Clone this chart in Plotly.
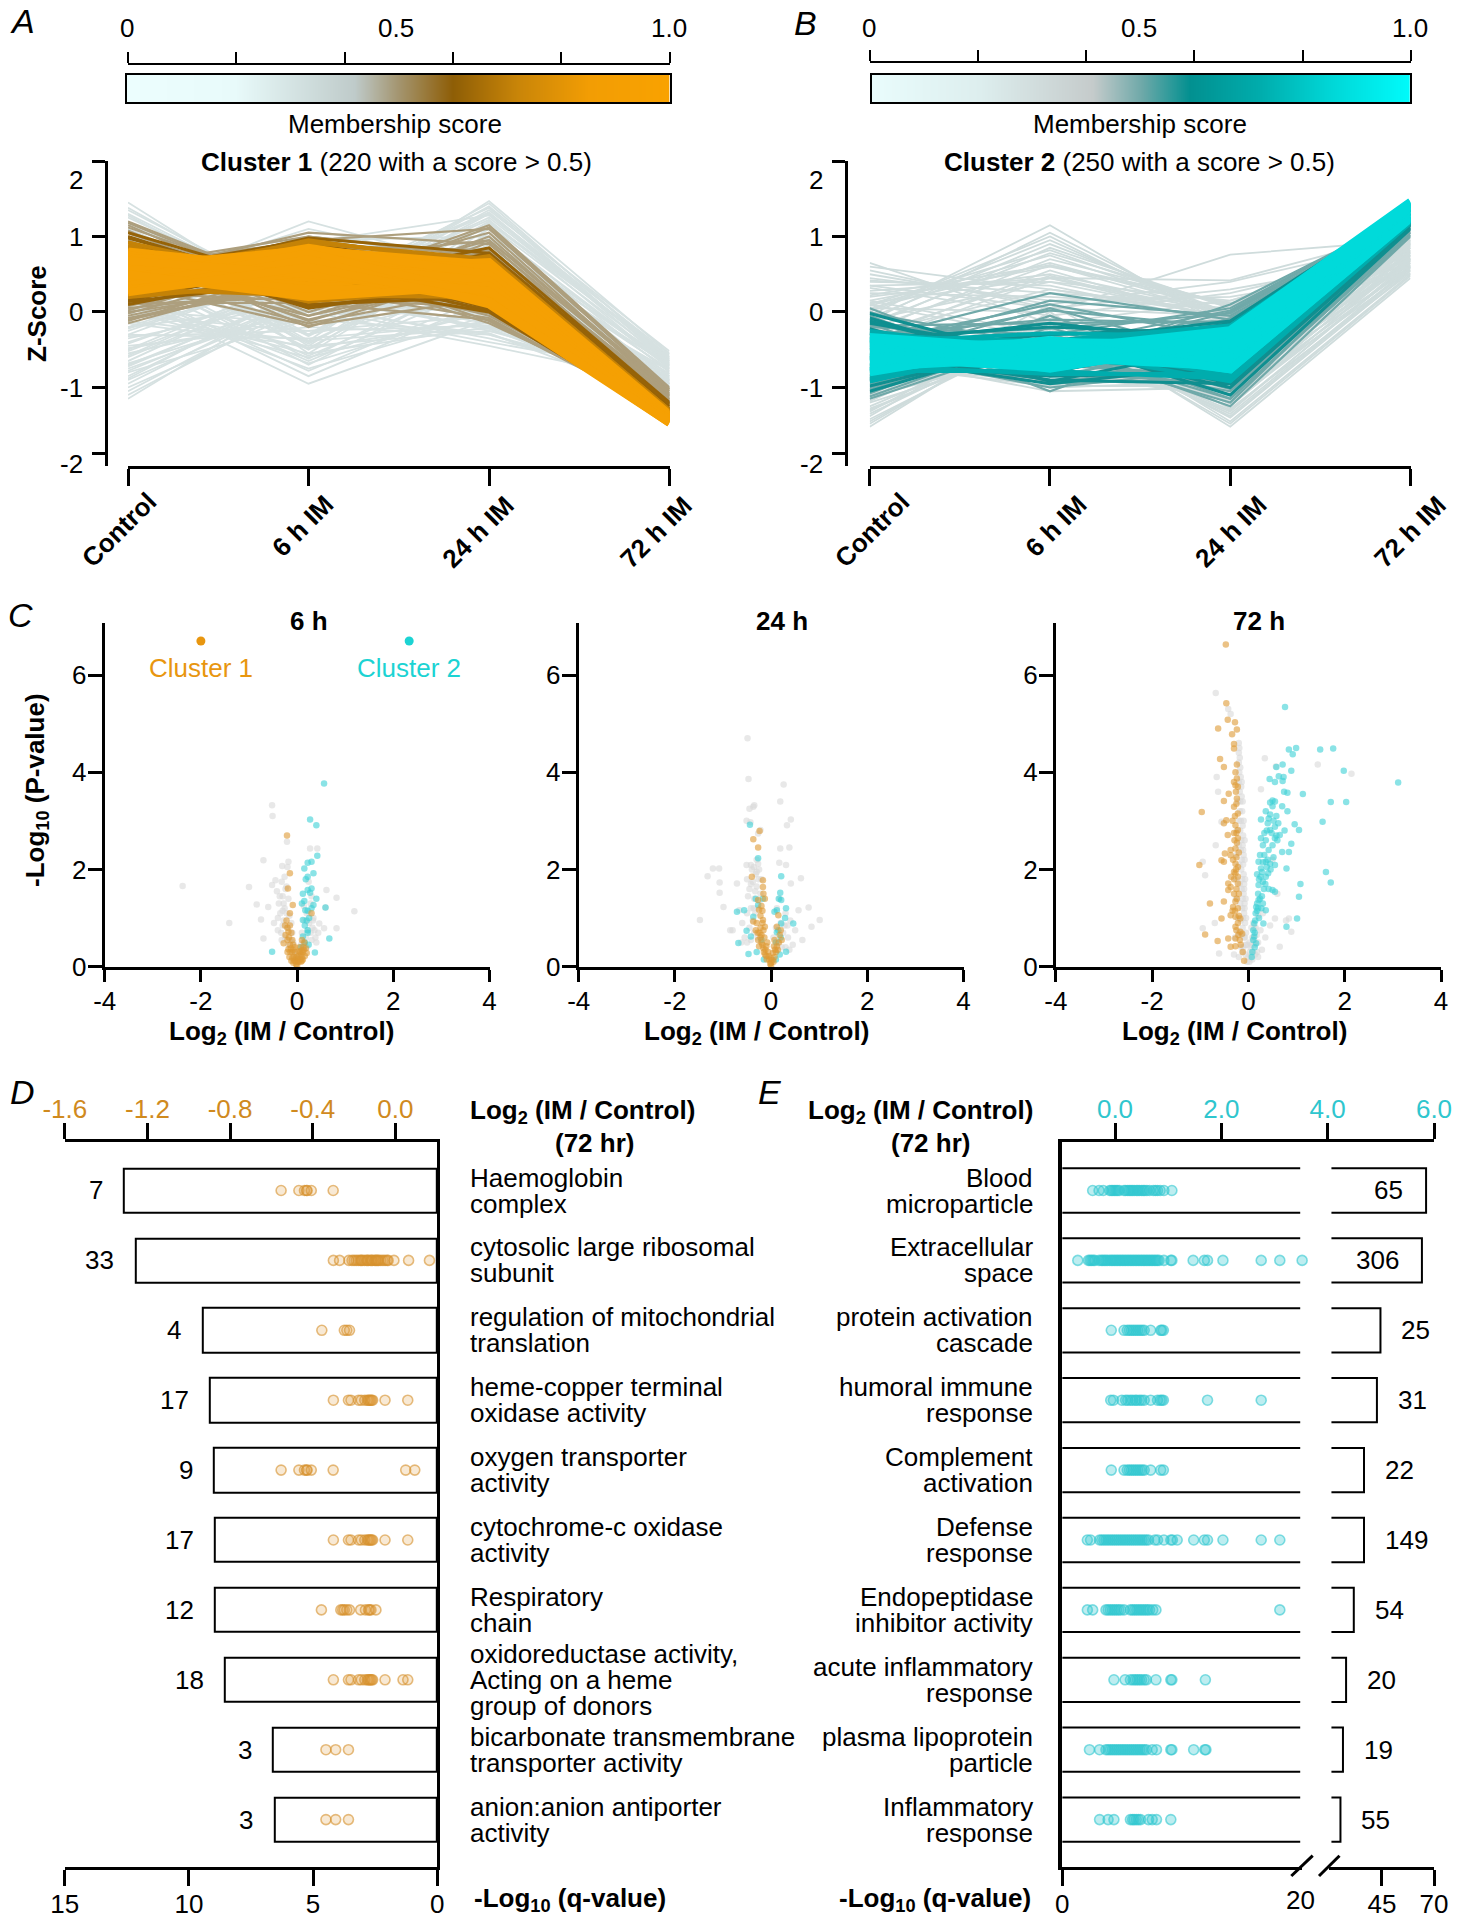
import plotly.graph_objects as go

W, H = 1460, 1920
FONT = "Liberation Sans"
FS = 26
X = lambda p: p / W
Y = lambda p: 1 - p / H

# ---------- panel A / B : profiles (Control, 6 h, 24 h, 72 h) ----------
timepoints = [0, 1, 2, 3]
a_grey = [(1.45,-.05,1.47,-.55),(1.38,.05,1.35,-.52),(1.30,.10,1.40,-.60),(1.25,.15,1.25,-.62),(1.15,.25,1.30,-.70),(1.10,.10,1.15,-.66),
(.95,.40,1.10,-.75),(-1.15,.30,.10,-1.05),(-1.05,.20,-.20,-.85),(-.95,.25,.05,-.95),(-.85,.30,-.25,-.80),(-.75,.10,-.35,-.90),
(-.65,.45,.15,-1.10),(-.55,.00,-.45,-.95),(-.50,.50,-.10,-.85),(-.45,-.20,-.30,-1.00),(-.40,.35,.20,-1.15),(-.30,-.35,-.15,-1.05),
(-.25,.55,.25,-1.00),(-.15,-.45,-.25,-.90),(-.10,.70,.05,-.95),(.00,-.60,.00,-1.00),(.05,-.55,-.20,-.95),(.10,.90,.30,-1.20),
(.15,-.75,-.05,-1.10),(.20,-.95,-.10,-.85),(.25,1.20,.55,-.95),(.30,-.85,.15,-1.15),(.35,1.10,.60,-.78),(.40,-.65,.35,-.90),
(.55,-.70,.50,-1.05),(.60,1.00,.75,-.70),(.75,-.50,.90,-.65),(.85,-.40,.70,-.85),(1.00,-.45,1.05,-.80),(1.10,-.55,.90,-.95),
(.50,.95,1.00,-.68),(.20,.80,.85,-.72),(-.20,.60,.65,-.88),(-.60,.40,.45,-1.00),(-.80,-.10,.35,-1.08),(-.35,.15,.10,-.75),
(-.05,-.25,-.05,-1.15),(.45,-.30,.25,-1.25),(.80,-.15,1.20,-.58),(.65,.30,1.32,-.65),(-.70,.25,-.15,-.98),(-1.00,.05,-.30,-.92),
(-.90,.15,.00,-1.02),(-.20,.10,-.10,-1.10),(.02,-.15,.12,-1.08),(.70,-.30,1.10,-.72),
(-1.10,.15,-.02,-1.00),(-.88,.35,.08,-.88),(-.78,.20,-.22,-1.12),(-.68,.05,-.40,-.82),(-.58,.48,.22,-.92),(-.48,-.10,-.28,-1.18),(-.42,.42,.30,-1.05),
(-.32,-.25,-.18,-.95),(-.22,.52,.18,-1.22),(-.12,-.38,-.22,-1.02),(-.02,.62,.02,-1.28),(.08,-.48,-.12,-1.12),(.18,.72,.28,-1.10),(.22,-.68,.05,-.92),
(.32,-.78,.22,-1.02),(.42,.98,.62,-.82),(.48,-.58,.42,-1.18),(.58,-.62,.58,-.88),(.68,-.48,.82,-.76),(.78,-.42,.78,-.98),(.88,-.32,.95,-.70),
(.98,-.38,1.18,-.60),(1.05,-.30,.98,-.90),(1.18,.18,1.22,-.74),(1.28,.02,1.30,-.56),(1.35,.12,1.44,-.64),(.90,.30,1.38,-.68),(.38,.92,1.28,-.62),
(.12,.85,.92,-.78),(-.30,.58,.72,-.82),(-.52,.38,.52,-.95),(-.72,.28,.38,-1.15)]
a_tan = [(1.20,.25,.95,-1.05),(1.12,.30,1.15,-1.00),(1.05,.20,.85,-1.12),(.98,.40,1.05,-1.08),(.92,.45,.80,-1.15),(.86,-.05,.65,-1.18),
(.80,-.20,.55,-1.20),(.72,.70,.95,-1.02),(.65,-.10,.45,-1.22),(.58,.85,.60,-1.10),(.50,1.05,.90,-1.05),(.45,-.15,.30,-1.25),
(.38,1.00,.75,-1.12),(.30,.95,.50,-1.18),(.22,.90,.20,-1.28),(.15,.80,.10,-1.32),(.08,.55,-.05,-1.30),(.02,.70,-.12,-1.35),
(-.05,.45,.00,-1.38),(-.12,.60,-.15,-1.25),(.10,.20,.05,-1.28),(.25,.15,.15,-1.30),(.00,.35,.35,-1.22),(-.15,.50,.25,-1.20),
(1.15,.10,1.00,-1.10),(.95,.00,.70,-1.16),(.60,.95,1.10,-1.03),(.28,.70,.40,-1.24),(-.08,.40,.12,-1.33),(.05,.30,-.08,-1.36),
(1.18,.22,1.12,-1.02),(1.08,.05,.92,-1.20),(.75,-.12,.58,-1.25),(.42,.88,.82,-1.08),(.20,.85,.68,-1.18),(-.02,.62,.22,-1.28),(-.10,.38,-.02,-1.32),
(.62,1.00,.72,-1.15),(.35,-.18,.18,-1.30),(.12,.12,-.10,-1.35),(.55,-.05,.48,-1.20)]
a_brown = [(1.05,.35,.85,-1.20),(.98,.30,.70,-1.25),(.92,.20,.60,-1.28),(.85,.15,.50,-1.30),(.80,.05,.40,-1.32),(.72,.08,.30,-1.35),
(.62,.10,.20,-1.38),(.55,.95,.65,-1.25),(.45,.98,.78,-1.22),(.38,.90,.55,-1.28),(.30,.85,.35,-1.33),(.22,.75,.15,-1.40),
(.15,.65,.05,-1.42),(.10,.55,.02,-1.40),(.18,.45,.10,-1.38),(.28,.25,.25,-1.35),(1.00,.25,.78,-1.22),(.14,.40,.00,-1.43)]
a_amber = [(.92,.40,.74,-1.30),(.88,.25,.68,-1.33),(.82,.15,.58,-1.36),(.75,.14,.46,-1.38),(.62,.14,.32,-1.42),(.52,.92,.70,-1.30),(.42,.95,.62,-1.33),
(.32,.88,.40,-1.38),(.25,.78,.20,-1.44),(.20,.62,.12,-1.45),(.20,.40,.14,-1.42),(.30,.22,.20,-1.40),(.62,.50,.72,-1.30)]
a_core = [(.80,.55,.66,-1.36),(.76,.35,.60,-1.38),(.72,.60,.52,-1.40),(.70,.26,.45,-1.42),(.65,.45,.38,-1.44),(.60,.82,.63,-1.37),
(.55,.72,.58,-1.38),(.50,.30,.30,-1.45),(.45,.85,.50,-1.40),(.40,.62,.42,-1.43),(.35,.78,.22,-1.46),(.30,.52,.15,-1.46),
(.28,.70,.10,-1.47),(.50,.20,.35,-1.44),(.68,.50,.28,-1.45),(.26,.60,.14,-1.47)]

b_grey = [(.65,-.15,.15,.85),(.60,.30,-.05,.70),(.50,.10,.40,.95),(.45,.15,.20,.60),(.40,.35,-.15,.65),(.32,-.05,.25,.80),(.28,.45,-.10,.55),
(.20,.50,.00,1.00),(.15,.60,.10,.75),(.08,.75,-.05,.90),(.05,.65,.00,.50),(.00,.95,-.10,.85),(-.05,1.15,-.25,.70),(-.12,1.05,-.15,.60),
(-.18,.85,.05,.95),(-.25,.70,.10,1.05),(-.35,.55,-.15,1.10),(-1.52,-.05,-1.52,.45),(-1.45,-.15,-1.40,.55),(-1.38,.00,-1.45,.50),
(-1.30,-.30,-1.30,.65),(-1.25,-.25,-1.35,.60),(-1.20,-.45,-1.25,.75),(-1.15,.10,-1.20,.70),(-1.10,-.40,-1.10,.80),(-.95,-.55,-1.05,.85),
(-.85,-.75,-1.15,.55),(-.75,-.90,-.95,.90),(-.60,-1.05,-1.00,.95),(-.45,-.95,-.85,.75),(-.30,-.85,-.95,.65),(-.20,-.70,-.90,.85),
(.10,-.35,-1.05,1.00),(.05,.00,.76,.95),(.12,.45,.42,1.05),(.25,.20,.05,.90),(-.10,.40,.15,.80),(.35,.05,-.05,.75),(-.28,.30,.00,1.15),
(-1.35,-.20,-1.22,.62),(-1.05,-.10,-.90,.68),(-.40,.45,-.02,.88),
(.55,.05,.30,.72),(.42,.25,.10,.88),(.35,.40,-.08,.98),(.22,.62,.12,.62),(.10,.82,-.02,.78),(.02,1.00,-.18,.92),(-.08,.90,-.02,.68),(-.15,.78,.08,.82),
(-.22,.62,-.05,1.00),(-.30,.48,-.10,1.08),(-1.48,-.10,-1.48,.48),(-1.42,-.22,-1.38,.58),(-1.32,-.05,-1.28,.52),(-1.28,-.35,-1.32,.68),(-1.18,-.12,-1.18,.78),
(-1.12,-.50,-1.12,.72),(-1.02,-.62,-1.08,.82),(-.92,-.42,-1.02,.92),(-.82,-.82,-1.12,.60),(-.70,-.98,-.98,.98),(-.52,-1.00,-.92,.70),(-.38,-.90,-.88,.92),
(-.25,-.78,-.98,.58),(-.10,-.60,-1.00,.88),(.00,-.50,-1.18,.78),(.15,-.30,-.80,.94)]
b_mid = [(.05,-.85,-.45,1.25),(.00,-.70,.10,1.30),(-.05,-.95,-.10,1.28),(-.10,-.60,.00,1.30),(-.15,-1.05,-.20,1.22),(-.20,-.30,.05,1.32),
(-.25,-.45,-.30,1.20),(-.30,-.10,-.15,1.25),(-.35,.25,-.10,1.35),(-.40,.10,-.35,1.15),(-.50,.15,-.05,1.28),(-.95,-.40,-1.25,1.00),
(-1.15,-.35,-1.10,1.05),(-1.08,-.20,-1.00,1.10),(-1.00,-.30,-.95,1.08),(-.92,-.45,-1.15,1.02),(-.85,-.05,-.90,1.12),(-.78,-.60,-1.05,1.05),
(-.70,-.70,-.85,1.15),(-.62,-.90,-.80,1.18),(-.55,-1.00,-.75,1.20),(-.45,-.85,-.70,1.22),(-.60,.05,-.60,1.25),(-.18,-.15,-.12,1.30),
(-.12,-.82,-.08,1.25),(-.02,-.45,.02,1.34),(-.22,-.75,-.22,1.18),(-.32,-.22,-.02,1.30),(-.45,.02,-.20,1.22),(-1.12,-.28,-1.15,1.02),(-1.02,-.38,-1.02,1.06),
(-.88,-.50,-1.20,1.10),(-.72,-.80,-.95,1.12),(-.58,-.95,-.88,1.16),(-.48,-.70,-.72,1.26)]
b_dark = [(-.02,-.65,-.25,1.35),(-.08,-.80,-.35,1.30),(-.15,-.55,-.15,1.40),(-.22,-.92,-.45,1.25),(-.28,-.40,-.12,1.42),(-.35,-.20,-.30,1.35),
(-.42,-.15,-.40,1.30),(-.50,-.30,-.20,1.38),(-1.05,-.35,-1.10,1.10),(-.98,-.40,-.95,1.15),(-.90,-.45,-1.00,1.12),(-.82,-.50,-.90,1.18),
(-.75,-.55,-.85,1.20),(-.68,-.85,-.80,1.22),(-.60,-.95,-.70,1.25),(-.55,-.90,-.95,1.15),(-.12,-.72,-.18,1.36),(-.88,-.62,-.78,1.16)]
b_amber = [(-.25,-.55,-.18,1.44),(-.28,-.80,-.28,1.42),(-.30,-.42,-.20,1.44),(-.85,-.42,-.85,1.20),(-.88,-.50,-.92,1.18),(-.78,-.78,-.88,1.20),(-.72,-.82,-.82,1.22),
(-.92,-.38,-.82,1.18),(-.35,-.38,-.18,1.40),(-.40,-.28,-.32,1.35)]
b_core = [(-.33,-.50,-.24,1.46),(-.38,-.62,-.30,1.44),(-.43,-.75,-.36,1.42),(-.48,-.40,-.42,1.38),(-.53,-.55,-.48,1.35),(-.58,-.68,-.54,1.32),
(-.63,-.37,-.60,1.30),(-.68,-.50,-.66,1.28),(-.73,-.60,-.72,1.26),(-.78,-.45,-.76,1.25),(-.80,-.40,-.76,1.24),(-.35,-.72,-.28,1.45),(-.60,-.74,-.40,1.40)]

bar_ticks_a = [0, .2, .4, .6, .8, 1]
ramp = [0, .1, .2, .3, .4, .5, .6, .7, .8, .9, 1]
scale_a = [[0,'#ECFEFE'],[.2,'#E8FAFA'],[.42,'#BFCBCA'],[.5,'#A49671'],[.6,'#8E5E06'],[.72,'#C98508'],[.85,'#F29D04'],[1,'#F9A200']]
scale_b = [[0,'#E9FCFC'],[.2,'#DDEEEE'],[.41,'#C5CBCB'],[.5,'#6FA9A9'],[.59,'#029090'],[.72,'#00ACAC'],[.85,'#00D6D6'],[1,'#00FBFB']]

# ---------- panel C : volcano points (log2 ratio, -log10 p) ----------
v6_grey = [(-2.38,1.66),(-1.0,1.64),(-.7,2.19),(-.52,3.32),(-.51,3.1),(-.84,1.28),(-1.41,.9),(-.75,.97),(-.7,.58),(-.6,1.23),(-.45,1.78),(-.52,1.68),
(-.31,2.07),(-.18,2.16),(-.21,2.57),(.27,2.43),(.42,2.43),(.61,1.58),(.82,1.42),(1.19,1.14),(.82,.79),(.56,.79),(.59,1.22),(.46,.89),
(-.48,.9),(-.42,1.55),(-.38,1.3),(-.35,1.1),(-.33,.7),(-.3,1.45),(-.28,.95),(-.26,1.2),(-.25,.6),(-.22,1.65),(-.2,.8),(-.18,1.4),(-.16,1.05),(-.14,.55),
(-.12,.9),(-.1,.7),(-.08,.5),(-.05,.3),(.05,.25),(.08,.45),(.1,.7),(.12,.5),(.15,.95),(.18,.6),(.2,1.1),(.22,.75),(.25,.9),(.28,1.3),(.3,.55),(.33,.95),
(.36,.75),(.4,.5),(.44,.7),(-.4,1.0),(-.3,.85),(-.24,1.6),(-.18,.45),(.14,1.25),(.24,1.75),(.34,1.0),(-.32,1.75),(-.26,1.85),(-.2,2.05),
(-.36,1.45),(-.28,1.3),(-.22,1.1),(-.3,1.15),(-.4,.75),(-.32,.55),(.28,.7),(.32,.8),(.2,.4),(.38,.6),(.26,1.1),(.3,1.45)]
v6_teal = [(.56,3.77),(.27,3.03),(.4,2.91),(.42,2.28),(.3,2.16),(.22,2.14),(.15,2.02),(.34,1.92),(.22,1.85),(.18,1.8),(.3,1.61),(.22,1.58),(.27,1.52),(.12,1.5),
(.4,1.4),(.34,1.27),(.59,1.22),(.17,1.16),(.22,1.15),(.3,1.2),(.12,.96),(.2,.95),(.16,.85),(.22,.75),(.67,.58),(-.52,.31),(.37,.29),(.22,.7),(.12,.62),(.16,.5),
(.08,.4),(.24,.45),(.1,1.3),(.15,1.35),(.25,1.0)]
v6_orange = [(-.21,2.7),(-.15,1.92),(-.19,1.61),(-.09,1.27),(-.15,1.1),(.3,1.1),(-.22,.95),(-.25,.85),(-.2,.8),(-.18,.72),(-.15,.85),(-.24,.65),(-.12,.7),(-.2,.55),
(-.28,.48),(-.1,.55),(-.15,.45),(-.08,.45),(.1,.55),(.15,.5),(.05,.4),(.18,.38),(.12,.3),(.08,.25),(-.05,.3),(-.1,.3),(-.14,.3),(-.07,.2),(.06,.15),(.1,.2),(-.04,.12),
(.03,.1),(-.02,.05),(0,.02),(-.03,.18),(.03,.22),(-.06,.12),(.06,.3),(.14,.35),(.2,.28),(-.18,.36),(0,.1),(-.01,.2),(.01,.15),
(-.12,.12),(-.16,.2),(-.2,.3),(.12,.15),(.16,.22),(-.08,.08),(.08,.1),(-.1,.18),(.1,.12),(-.13,.38),(.13,.4),(-.05,.4),(.04,.32),(-.17,.6),(-.08,.35),(.09,.33)]

v24_grey = [(-1.32,1.86),(-1.21,2.02),(-1.08,2.02),(-1.07,1.73),(-1.07,1.52),(-.99,1.23),(-1.48,.96),(-.85,.75),(-.49,4.7),(-.47,3.86),(.26,3.75),(.19,3.4),(-.37,3.29),
(-.45,3.25),(-.35,3.32),(-.51,3.0),(-.43,2.97),(.41,3.03),(.33,2.91),(.19,2.43),(.38,2.45),(-.27,2.74),(-.22,2.81),(-.51,2.09),(-.42,2.09),(-.27,2.12),(.17,2.14),(.31,2.09),
(.62,1.82),(.41,1.71),(.78,1.22),(.57,1.16),(1.01,.96),(.84,.82),(.65,.55),(-.71,1.71),(-.66,1.16),(-.8,.75),(-.5,1.8),(-.45,1.6),(-.4,2.0),(-.35,1.4),(-.32,1.9),(-.3,1.65),
(-.28,1.2),(-.25,2.0),(-.22,1.5),(-.2,1.8),(-.5,1.1),(-.45,.8),(-.42,1.2),(-.38,.95),(-.35,.7),(-.28,.6),(-.6,.9),(-.55,.6),(-.62,.5),(.05,.6),(.1,.8),(.15,.5),(.2,.9),(.25,.7),
(.3,1.1),(.35,.6),(.4,.95),(.45,.45),(.5,.75),(.12,1.2),(.18,1.4),(.3,.4),(-.3,2.2),(-.36,2.05),(-.33,1.55),
(-.48,1.45),(-.42,1.7),(-.38,1.75),(-.36,1.2),(-.33,1.1),(-.3,1.95),(-.26,1.8),(-.24,1.35),(-.42,.55),(-.5,.5),(.22,.4),(.28,.85),(.34,.85),(.1,.35),(.38,.35)]
v24_teal = [(-.44,2.92),(-.27,2.23),(.21,1.86),(.19,1.52),(.16,1.4),(-.17,1.4),(-.32,1.4),(-.27,1.27),(.21,1.37),(.31,1.2),(-.71,1.13),(-.56,1.16),(-.37,1.03),(.46,.89),(-.68,.49),
(-.47,.26),(-.51,.74),(.29,1.0),(.21,.89),(.31,.31),(-.42,.62),(.12,.71),(.12,1.16),(.07,1.13),(.15,.75),(.2,.6),(.1,.5),(-.2,.55),(-.3,.3),(.18,.25),(-.15,.15),(.1,.15)]
v24_orange = [(-.24,2.79),(-.37,2.62),(-.27,2.45),(-.4,1.85),(-.17,1.78),(-.17,1.64),(-.16,1.5),(-.27,1.37),(-.13,1.4),(-.25,1.17),(-.37,.93),(-.32,.75),(-.27,.55),(-.17,.96),(-.13,.82),
(.15,1.06),(.22,.55),(.12,.82),(.07,.55),(-.3,.9),(-.22,.8),(-.2,.65),(-.25,.42),(-.18,.45),(-.14,.6),(-.12,.35),(-.08,.5),(-.06,.3),(.04,.28),(.08,.35),(.12,.42),(.16,.5),(-.1,.22),
(-.04,.15),(.03,.14),(-.02,.06),(0,.02),(-.15,.3),(.05,.1),(-.22,1.05),(-.28,.7),(-.2,1.25),(-.18,1.15),(0,.08),(-.01,.18),
(-.24,.7),(-.2,.5),(-.16,.38),(-.13,.25),(-.09,.15),(-.05,.22),(.07,.2),(.1,.3),(.14,.35),(-.1,.42),(-.16,.75),(-.22,.6),(-.18,.9),(.18,.65),(.2,.75),(.06,.42)]

v72_grey = [(-.68,5.63),(-.42,5.3),(-.37,5.2),(.34,4.29),(1.44,4.16),(2.14,3.97),(.26,3.65),(.57,4.12),(-.66,3.9),(-.63,3.6),(-.56,2.98),(-.68,2.5),(-.9,1.88),(-.95,2.16),(.65,.41),(.55,.99),
(.84,.99),(.89,.72),(-.61,.27),(-.95,.79),(.5,2.2),(.6,1.5),(.45,.85),(.35,.6),(.3,1.1),(.78,.95),(-.7,.9),(-.2,4.6),(-.2,4.4),(-.2,4.2),(-.19,4.0),(-.2,3.8),(-.18,3.6),(-.17,3.4),(-.18,3.2),
(-.16,3.0),(-.17,2.8),(-.15,2.6),(-.16,2.4),(-.14,2.2),(-.15,2.0),(-.13,1.8),(-.14,1.6),(-.12,1.4),(-.13,1.2),(-.11,1.0),(-.12,.8),(-.09,.6),(-.1,.4),(-.06,.25),(-.03,.1),(-.1,3.0),(-.08,2.6),
(-.08,2.2),(-.07,1.8),(-.06,1.4),(-.05,1.0),(-.05,.7),(-.22,3.4),(-.24,2.8),(-.25,2.3),(-.26,1.8),(-.26,1.4),(-.22,1.0),(-.2,.7),(-.15,.4),(.05,.2),(.1,.3),(.12,.55),(.15,.8),(.2,1.05),(.08,.6),
(.04,.4),(.02,.1),(.14,.25),(.2,.5),(.28,.35),(.25,.75),(.1,.9),(.18,.3),(-.2,.2),(-.3,.25),(-.28,.6),(-.12,3.4),(-.14,3.8),(-.11,2.4),(-.09,1.6),(-.08,1.2),(-.03,.45),(0,.2),(.02,.5),(.06,.8),
(-.19,4.5),(-.18,4.3),(-.17,4.1),(-.16,3.9),(-.15,3.7),(-.14,3.5),(-.13,3.2),(-.12,2.9),(-.11,2.7),(-.12,2.5),(-.1,2.3),(-.11,2.1),(-.1,1.9),(-.09,1.7),(-.1,1.5),(-.08,1.3),(-.09,1.1),(-.07,.9),(-.07,.6),(-.06,.45),
(-.2,3.0),(-.2,2.5),(-.19,2.1),(-.18,1.7),(-.17,1.3),(-.16,.95),(-.14,.65),(-.12,.3),(.03,.3),(.06,.45),(.1,.6),(.14,.45),(.17,.65),(.12,.8),(.2,.2),(.08,.15)]
v72_teal = [(.76,5.34),(.84,4.47),(.99,4.5),(.92,4.37),(1.49,4.47),(1.76,4.49),(.71,4.16),(.58,4.11),(.89,4.03),(1.98,4.03),(3.11,3.79),(.63,3.92),(.73,3.9),(.44,3.86),(.71,3.82),(.55,3.8),(.74,3.6),
(1.13,3.55),(.81,3.58),(1.71,3.39),(2.03,3.39),(.5,3.42),(.45,3.38),(.7,3.3),(.81,3.2),(.36,3.2),(.45,3.13),(.26,3.03),(1.54,2.98),(.96,2.93),(.4,2.95),(.55,2.88),(.45,2.81),(1.05,2.81),(.65,2.71),
(.26,2.64),(.36,2.6),(.55,2.64),(.89,2.53),(.5,2.5),(.7,2.36),(.84,2.36),(.21,2.16),(.36,2.16),(.45,2.12),(.55,2.09),(.26,2.02),(.41,1.92),(.79,2.02),(1.61,1.95),(.36,1.85),(1.71,1.73),(1.08,1.7),
(.21,1.68),(.5,1.58),(.55,1.54),(1.05,1.44),(.21,1.37),(.16,1.23),(.36,1.16),(.12,.89),(.31,.89),(1.01,.99),(.79,.82),(.12,.62),(.16,.48),(.07,.2),(.3,2.5),(.42,2.4),(.6,2.6),(.33,2.3),(.52,2.25),
(.25,1.85),(.3,1.75),(.2,1.5),(.28,1.45),(.15,1.1),(.22,1.0),(.1,.75),(.13,.4),(.58,3.1),(.62,2.95),(.48,2.75),(.33,2.75),(.75,2.8),(.4,2.2),(.46,2.0),(.24,2.3),(.18,1.9),(.32,1.6),(.27,1.2),(.18,1.3),
(.5,3.3),(.55,3.4),(.42,3.05),(.52,3.0),(.38,2.8),(.58,2.7),(.3,2.15),(.38,2.05),(.28,1.95),(.22,1.8),(.35,1.7),(.42,1.6),(.18,1.15),(.14,.95),(.1,.55),(.2,1.2),(.24,1.4),(.3,1.3),(.13,.7),(.08,.3)]
v72_orange = [(-.47,6.63),(-.46,5.42),(-.43,5.08),(-.28,5.03),(-.63,4.9),(-.34,4.78),(-.24,4.88),(-.3,4.58),(-.3,4.49),(-.59,4.27),(-.24,4.16),(-.51,4.11),(-.27,4.0),(-.24,3.87),(-.27,3.73),(-.22,3.7),
(-.41,3.56),(-.51,3.41),(-.24,3.46),(-.3,3.29),(-.22,3.15),(-.97,3.18),(-.46,3.01),(-.51,2.95),(-.27,2.91),(-.22,2.81),(-.43,2.71),(-.22,2.64),(-.27,2.43),(-.37,2.4),(-.49,2.33),(-.37,2.29),(-.56,2.19),
(-.51,2.16),(-1.02,2.09),(-.27,2.12),(-.22,2.05),(-.27,1.92),(-.42,1.71),(-.22,1.71),(-.37,1.64),(-.42,1.58),(-.51,1.34),(-.8,1.3),(-.27,1.34),(-.32,1.23),(-.22,1.2),(-.37,1.06),(-.27,1.03),(-.56,.99),
(-.17,.99),(-.27,.82),(-.9,.66),(-.64,.53),(-.17,.72),(-.42,.58),(-.27,.58),(-.13,.68),(-.37,.41),(-.27,.42),(-.3,3.8),(-.26,3.6),(-.33,3.0),(-.29,2.6),(-.32,2.2),(-.25,2.25),(-.3,1.95),(-.36,1.85),
(-.3,1.5),(-.24,1.4),(-.33,1.15),(-.22,.9),(-.18,.55),(-.12,.3),(-.09,.12),
(-.25,3.35),(-.28,3.1),(-.25,2.75),(-.3,2.75),(-.24,2.55),(-.2,2.35),(-.26,2.0),(-.22,1.85),(-.3,1.8),(-.25,1.6),(-.2,1.5),(-.28,1.15),(-.2,1.05),(-.25,.75),(-.16,.45),(-.21,.65)]
legend_x = [-2, 2.33]
legend_y = [6.7, 6.7]
volcano_ticks = [-4, -2, 0, 2, 4]
volcano_labels = ["-4", "-2", "0", "2", "4"]

# ---------- panel D ----------
d_q = [12.63, 12.16, 9.46, 9.15, 9.01, 8.97, 8.95, 8.54, 6.62, 6.56]
d_counts = [7, 33, 4, 17, 9, 17, 12, 18, 3, 3]
d_terms = [["Haemoglobin","complex"],["cytosolic large ribosomal","subunit"],["regulation of mitochondrial","translation"],["heme-copper terminal","oxidase activity"],
["oxygen transporter","activity"],["cytochrome-c oxidase","activity"],["Respiratory","chain"],["oxidoreductase activity,","Acting on a heme","group of donors"],
["bicarbonate transmembrane","transporter activity"],["anion:anion antiporter","activity"]]
d_points = [
 [-.553,-.467,-.44,-.43,-.427,-.407,-.301],
 [-.30,-.27,-.225,-.21,-.20,-.19,-.18,-.17,-.165,-.16,-.15,-.14,-.135,-.13,-.12,-.115,-.11,-.10,-.095,-.09,-.085,-.08,-.07,-.06,-.05,-.04,-.035,-.007,.064,.165],
 [-.356,-.247,-.235,-.222],
 [-.30,-.227,-.215,-.178,-.165,-.148,-.136,-.13,-.125,-.12,-.115,-.11,-.05,.06],
 [-.553,-.467,-.44,-.43,-.427,-.407,-.301,.05,.094],
 [-.30,-.227,-.215,-.178,-.165,-.148,-.136,-.13,-.125,-.12,-.115,-.11,-.05,.06],
 [-.358,-.264,-.255,-.247,-.235,-.222,-.168,-.145,-.13,-.125,-.118,-.094],
 [-.30,-.227,-.215,-.178,-.165,-.148,-.136,-.13,-.125,-.12,-.115,-.11,-.05,.037,.06],
 [-.336,-.289,-.227],
 [-.336,-.289,-.227]]

# ---------- panel E ----------
e_q = [66.2, 64.2, 44.3, 42.6, 36.4, 36.4, 31.5, 27.8, 26.3, 25.1]
e_counts = [65, 306, 25, 31, 22, 149, 54, 20, 19, 55]
e_terms = [["Blood","microparticle"],["Extracellular","space"],["protein activation","cascade"],["humoral immune","response"],["Complement","activation"],["Defense","response"],
["Endopeptidase","inhibitor activity"],["acute inflammatory","response"],["plasma lipoprotein","particle"],["Inflammatory","response"]]
e_points = [
 [-.42,-.30,-.22,-.10,-.07,-.04,-.01,.02,.05,.08,.17,.2,.24,.27,.3,.33,.36,.4,.43,.46,.5,.53,.56,.6,.65,.72,.76,.8,.85,.92,1.07],
 [-.70,-.5,-.47,-.44,-.41,-.38,-.3,-.26,-.23,-.2,-.17,-.14,-.1,-.07,-.04,-.01,.02,.05,.08,.11,.14,.17,.2,.23,.26,.29,.32,.35,.38,.41,.44,.47,.5,.53,.56,.59,.62,.65,.68,.71,.74,.77,.8,.83,.92,1.05,1.07,1.47,1.68,1.74,2.03,2.75,3.1,3.52],
 [-.07,.17,.23,.27,.31,.35,.39,.43,.47,.51,.55,.67,.86,.88,.91],
 [-.08,-.03,.13,.2,.24,.29,.33,.38,.41,.46,.5,.55,.67,.8,.85,.88,.91,1.74,2.75],
 [-.07,.17,.23,.27,.31,.35,.39,.43,.47,.51,.55,.67,.86,.91],
 [-.52,-.46,-.29,-.25,-.21,-.17,-.13,-.09,-.05,-.01,.03,.07,.11,.15,.19,.23,.27,.31,.35,.39,.43,.47,.51,.55,.59,.63,.75,.8,.92,1.05,1.08,1.17,1.48,1.68,1.74,2.03,2.75,3.1],
 [-.52,-.42,-.17,-.13,-.09,-.05,-.01,.03,.07,.11,.17,.29,.33,.37,.41,.45,.49,.53,.57,.61,.65,.71,.77,3.1],
 [-.02,.19,.29,.34,.38,.42,.46,.5,.55,.59,.77,1.05,1.07,1.7],
 [-.48,-.29,-.17,-.13,-.09,-.05,-.01,.03,.07,.11,.15,.19,.23,.27,.31,.35,.39,.43,.47,.51,.55,.59,.7,.78,1.05,1.07,1.48,1.69,1.71],
 [-.29,-.13,-.02,.29,.33,.36,.4,.44,.48,.63,.7,.78,1.05]]

axis_break_left = 20
axis_break_right = 20.77
bar_half = .317
rows = list(range(10))

fig = go.Figure()
annotations = []

def txt(x, y, t, size=FS, color="black", bold=False, anchor="center", angle=0, italic=False):
    if bold: t = "<b>" + t + "</b>"
    if italic: t = "<i>" + t + "</i>"
    annotations.append(dict(x=X(x), y=Y(y), xref="paper", yref="paper", text=t, showarrow=False, xanchor=anchor, yanchor="middle",
                            textangle=angle, font=dict(size=size, color=color, family=FONT)))

BASE = dict(showgrid=False, zeroline=False, showline=True, linecolor="black", ticks="outside", tickcolor="black", automargin=False,
            layer="above traces", tickfont=dict(size=FS, color="black", family=FONT))

def axis(**kw):
    d = dict(BASE); d.update(kw); return d

layout = {}

def profile_panel(n, x0, x1, yline, groups, scale, bar0, bar1, sc0, sc1, sc_y, labels_x, title, title_x, memb_x, tick_lab_right):
    xa, ya = f"x{n}", f"y{n}"
    layout[f"xaxis{n}"] = axis(domain=[X(x0), X(x1)], range=[0, 3], anchor=ya, tickvals=timepoints, showticklabels=False, ticklen=17, tickwidth=2.5, linewidth=2.5)
    layout[f"yaxis{n}"] = axis(domain=[Y(466), Y(161)], range=[-2.04, 2.0], anchor="free", position=X(yline), tickvals=[2, 1, 0, -1, -1.88],
                               showticklabels=False, ticklen=13, tickwidth=2.5, linewidth=2.5)
    for rows_, color, w in groups:
        xs, ys = [], []
        for r in rows_:
            xs += timepoints + [None]; ys += list(r) + [None]
        fig.add_trace(go.Scatter(x=xs, y=ys, mode="lines", line=dict(color=color, width=w), xaxis=xa, yaxis=ya, hoverinfo="skip", showlegend=False, connectgaps=False))
    n2 = n + 1; n3 = n + 2
    layout[f"xaxis{n2}"] = dict(domain=[X(bar0), X(bar1)], range=[0, 1], anchor=f"y{n2}", showgrid=False, zeroline=False, showticklabels=False, ticks="", showline=True, mirror=True, linecolor="black", linewidth=2, automargin=False)
    layout[f"yaxis{n2}"] = dict(domain=[Y(102.3), Y(75)], range=[0, 1], anchor=f"x{n2}", showgrid=False, zeroline=False, showticklabels=False, ticks="", showline=True, mirror=True, linecolor="black", linewidth=2, automargin=False)
    fig.add_trace(go.Heatmap(x=ramp, y=[0, 1], z=[ramp, ramp], colorscale=scale, zmin=0, zmax=1, zsmooth="best", showscale=False, xaxis=f"x{n2}", yaxis=f"y{n2}", hoverinfo="skip"))
    layout[f"xaxis{n3}"] = axis(domain=[X(sc0), X(sc1)], range=[0, 1], anchor="free", position=Y(sc_y), side="top", tickvals=bar_ticks_a, showticklabels=False, ticklen=11.5, tickwidth=2, linewidth=2)
    fig.add_trace(go.Scatter(x=[0, 1], y=[None, None], xaxis=f"x{n3}", yaxis=f"y{n2}", mode="lines", hoverinfo="skip", showlegend=False))
    for lab, xp in zip(["0", "0.5", "1.0"], labels_x):
        txt(xp, 28, lab)
    txt(memb_x, 123.5, "Membership score")
    txt(title_x, 162.4, title)
    for lab, yy in zip(["2", "1", "0", "-1", "-2"], [180.5, 237, 312, 388, 464]):
        txt(tick_lab_right, yy, lab, anchor="right")

profile_panel(1, 128, 669.5, 105.7,
              [(a_grey, "#D6E1E1", 1.8), (a_tan, "#AD9F7E", 2.2), (a_brown, "#966308", 3), (a_amber, "#C48207", 4), (a_core, "#F5A003", 8)],
              scale_a, 126.6, 669.5, 128, 669.5, 64, [126.6, 395.7, 669], "<b>Cluster 1</b> (220 with a score > 0.5)", 396, 394.5, 85)
profile_panel(4, 869.7, 1410.5, 845.5,
              [(b_grey, "#CFDCDC", 1.8), (b_mid, "#70A9A9", 2.2), (b_dark, "#0F8F90", 3), (b_amber, "#00ACAD", 4), (b_core, "#00DADA", 8)],
              scale_b, 872, 1409.7, 869.7, 1411, 62, [868.7, 1138.8, 1409.7], "<b>Cluster 2</b> (250 with a score > 0.5)", 1139, 1139.7, 825)

for lab, (cx, cy) in zip(["Control", "6 h IM", "24 h IM", "72 h IM"], [(118.7, 530), (302.6, 526), (478, 532), (656.4, 532)]):
    txt(cx, cy, lab, bold=True, angle=-45)
for lab, (cx, cy) in zip(["Control", "6 h IM", "24 h IM", "72 h IM"], [(872, 530), (1055.9, 526), (1230.5, 532), (1409.7, 532)]):
    txt(cx, cy, lab, bold=True, angle=-45)
txt(37, 314, "Z-Score", bold=True, angle=-90)
txt(22, 21, "A", size=34, italic=True); txt(805, 23, "B", size=34, italic=True); txt(20, 615, "C", size=34, italic=True)
txt(22, 1092, "D", size=34, italic=True); txt(769, 1092, "E", size=34, italic=True)

# ---------- panel C ----------
def unz(p): return [a for a, _ in p], [b for _, b in p]
GREY, TEAL, ORANGE = "#D9D9D9", "#3CD0D6", "#DE9A33"
def volcano(n, x0, x1, sets, title, tx, xt):
    xa, ya = f"x{n}", f"y{n}"
    layout[f"xaxis{n}"] = axis(domain=[X(x0), X(x1)], range=[-4, 4], anchor=ya, tickvals=volcano_ticks, ticktext=volcano_labels, ticklen=12, tickwidth=3, linewidth=3, ticklabelstandoff=-3)
    layout[f"yaxis{n}"] = axis(domain=[Y(966.7), Y(623)], range=[0, 7.07], anchor=xa, tickvals=[0, 2, 4, 6], ticklen=14, tickwidth=3, linewidth=3, ticklabelstandoff=-4)
    for pts, col in zip(sets, (GREY, TEAL, ORANGE)):
        xs, ys = unz(pts)
        fig.add_trace(go.Scatter(x=xs, y=ys, mode="markers", marker=dict(color=col, size=6.5, opacity=.6, line=dict(width=0)), xaxis=xa, yaxis=ya, hoverinfo="skip", showlegend=False, cliponaxis=False))
    txt(tx, 620.7, title, bold=True)
    txt(xt, 1032.7, "Log<sub>2</sub> (IM / Control)", bold=True)

volcano(7, 104.7, 489.5, (v6_grey, v6_teal, v6_orange), "6 h", 308.7, 281.6)
volcano(8, 578.7, 963.5, (v24_grey, v24_teal, v24_orange), "24 h", 782, 756.8)
volcano(9, 1055.9, 1441, (v72_grey, v72_teal, v72_orange), "72 h", 1259, 1234)
fig.add_trace(go.Scatter(x=legend_x, y=legend_y, mode="markers", marker=dict(color=["#E8960F", "#1CD3D3"], size=9), xaxis="x7", yaxis="y7", hoverinfo="skip", showlegend=False))
txt(201, 668.3, "Cluster 1", color="#E8960F"); txt(408.8, 668.3, "Cluster 2", color="#1CD3D3")
txt(37, 790, "-Log<sub>10</sub> (P-value)", bold=True, angle=-90)

# ---------- panel D ----------
DOM_Y = [Y(1866.7), Y(1141.7)]
YR = [9.674, -0.698]
layout["xaxis10"] = axis(domain=[X(64.8), X(437.2)], range=[15, 0], anchor="y10", tickvals=[15, 10, 5, 0], ticklen=16, tickwidth=3, linewidth=3, ticklabelstandoff=-4)
layout["yaxis10"] = axis(domain=DOM_Y, range=YR, anchor="x10", side="right", ticks="", showticklabels=False, linewidth=3)
layout["xaxis11"] = axis(domain=[X(64.8), X(437.2)], range=[-1.6, .2025], anchor="y10", side="top", tickvals=[-1.6, -1.2, -.8, -.4, 0], ticktext=["-1.6", "-1.2", "-0.8", "-0.4", "0.0"],
                         ticklen=16, tickwidth=3, linewidth=3, ticklabelstandoff=-6, tickfont=dict(size=FS, color="#D08A1E", family=FONT))
fig.add_trace(go.Bar(x=d_q, y=rows, orientation="h", width=2 * bar_half, marker=dict(color="white", line=dict(color="black", width=2)), xaxis="x10", yaxis="y10", hoverinfo="skip", showlegend=False))
for i, pts in enumerate(d_points):
    fig.add_trace(go.Scatter(x=pts, y=[i] * len(pts), mode="markers", marker=dict(size=10, color="rgba(222,155,60,0.22)", line=dict(color="rgba(214,145,45,0.6)", width=1.6)),
                             xaxis="x11", yaxis="y10", hoverinfo="skip", showlegend=False, cliponaxis=False))
for i, (q, c) in enumerate(zip(d_q, d_counts)):
    annotations.append(dict(x=q, y=i, xref="x10", yref="y10", text=str(c), showarrow=False, xanchor="right", yanchor="middle", xshift=-19, font=dict(size=FS, color="black", family=FONT)))
ROW_Y = [1190.5 + 69.9 * i for i in rows]
for cy, t in zip(ROW_Y, d_terms):
    for k, line in enumerate(t):
        txt(468.4, cy + (k - (len(t) - 1) / 2) * 26, line, anchor="left")
txt(468, 1111.7, "Log<sub>2</sub> (IM / Control)", bold=True, anchor="left")
txt(594, 1142.7, "(72 hr)", bold=True)
txt(472, 1899, "-Log<sub>10</sub> (q-value)", bold=True, anchor="left")

# ---------- panel E ----------
layout["yaxis12"] = axis(domain=DOM_Y, range=YR, anchor="x12", ticks="", showticklabels=False, linewidth=3.5)
layout["xaxis12"] = axis(domain=[X(1062.2), X(1302)], range=[0, 20.15], anchor="y12", tickvals=[0], ticklen=16, tickwidth=3, linewidth=3, ticklabelstandoff=-4)
layout["xaxis13"] = axis(domain=[X(1329), X(1434)], range=[19.6, 70], anchor="y12", tickvals=[45, 70], ticklen=16, tickwidth=3, linewidth=3, ticklabelstandoff=-4)
layout["xaxis14"] = axis(domain=[X(1062.2), X(1434)], range=[-.993, 6], anchor="y12", side="top", tickvals=[0, 2, 4, 6], ticktext=["0.0", "2.0", "4.0", "6.0"], ticklen=16, tickwidth=3, linewidth=3,
                         ticklabelstandoff=-6, tickfont=dict(size=FS, color="#2FC6CE", family=FONT))
lx, ly, rx, ry = [], [], [], []
for i, q in enumerate(e_q):
    lx += [0, axis_break_left, None, 0, axis_break_left, None]
    ly += [i - bar_half, i - bar_half, None, i + bar_half, i + bar_half, None]
    rx += [axis_break_right, q, q, axis_break_right, None]
    ry += [i - bar_half, i - bar_half, i + bar_half, i + bar_half, None]
fig.add_trace(go.Scatter(x=lx, y=ly, mode="lines", line=dict(color="black", width=2), xaxis="x12", yaxis="y12", hoverinfo="skip", showlegend=False))
fig.add_trace(go.Scatter(x=rx, y=ry, mode="lines", line=dict(color="black", width=2), xaxis="x13", yaxis="y12", hoverinfo="skip", showlegend=False))
for i, pts in enumerate(e_points):
    fig.add_trace(go.Scatter(x=pts, y=[i] * len(pts), mode="markers", marker=dict(size=10, color="rgba(50,200,208,0.32)", line=dict(color="rgba(50,200,208,0.6)", width=1.6)),
                             xaxis="x14", yaxis="y12", hoverinfo="skip", showlegend=False, cliponaxis=False))
for i, (q, c) in enumerate(zip(e_q, e_counts)):
    inside = i < 2
    annotations.append(dict(x=q, y=i, xref="x13", yref="y12", text=str(c), showarrow=False, xanchor="right" if inside else "left", yanchor="middle", xshift=-21 if inside else 19,
                            font=dict(size=FS, color="black", family=FONT)))
for cy, t in zip(ROW_Y, e_terms):
    for k, line in enumerate(t):
        txt(1035.4, cy + (k - (len(t) - 1) / 2) * 26, line, anchor="right")
txt(1035.4, 1111.7, "Log<sub>2</sub> (IM / Control)", bold=True, anchor="right")
txt(930.5, 1142.7, "(72 hr)", bold=True)
txt(1033, 1899, "-Log<sub>10</sub> (q-value)", bold=True, anchor="right")
annotations.append(dict(x=20, y=Y(1900), xref="x12", yref="paper", text="20", showarrow=False, xanchor="center", yanchor="middle", font=dict(size=FS, color="black", family=FONT)))
brk = [dict(type="line", xref="paper", yref="paper", x0=X(a), x1=X(b), y0=Y(1876), y1=Y(1855.7), line=dict(color="black", width=3)) for a, b in [(1291.3, 1312.7), (1319, 1339.5)]]

fig.update_layout(width=W, height=H, margin=dict(l=0, r=0, t=0, b=0, pad=0, autoexpand=False), paper_bgcolor="white", plot_bgcolor="rgba(0,0,0,0)", showlegend=False,
                  font=dict(family=FONT, size=FS, color="black"), annotations=annotations, shapes=brk, bargap=0, **layout)
fig.write_html("out.html", post_script="document.body.style.margin='0';", config={"displayModeBar": False})
